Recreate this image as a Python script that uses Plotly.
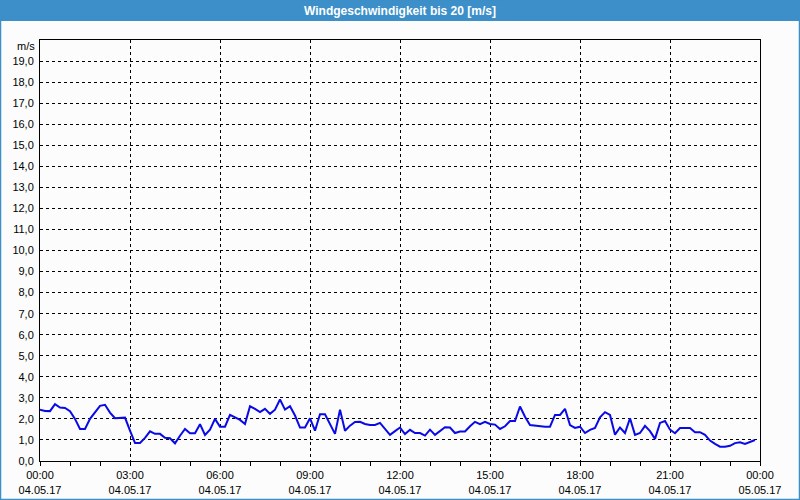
import pandas as pd
import plotly.graph_objects as go

# --- data -------------------------------------------------------------
start = "2017-05-04 00:00"
interval_minutes = 10
wind_speed = [
    2.44, 2.38, 2.37, 2.70, 2.54, 2.52, 2.37, 2.00, 1.52, 1.52,
    2.00, 2.30, 2.62, 2.67, 2.30, 2.03, 2.03, 2.06, 1.44, 0.86,
    0.86, 1.10, 1.41, 1.29, 1.29, 1.10, 1.08, 0.84, 1.20, 1.52,
    1.32, 1.32, 1.75, 1.24, 1.49, 2.00, 1.63, 1.63, 2.19, 2.08,
    1.95, 1.76, 2.60, 2.48, 2.32, 2.48, 2.24, 2.44, 2.92, 2.44,
    2.60, 2.16, 1.59, 1.59, 2.03, 1.44, 2.22, 2.22, 1.76, 1.29,
    2.44, 1.44, 1.68, 1.85, 1.86, 1.76, 1.71, 1.71, 1.81, 1.50,
    1.24, 1.42, 1.59, 1.28, 1.48, 1.33, 1.33, 1.21, 1.49, 1.24,
    1.42, 1.60, 1.59, 1.33, 1.40, 1.40, 1.65, 1.86, 1.75, 1.86,
    1.76, 1.73, 1.52, 1.65, 1.90, 1.90, 2.59, 2.10, 1.71, 1.68,
    1.63, 1.63, 1.63, 2.19, 2.19, 2.48, 1.71, 1.57, 1.63, 1.33,
    1.48, 1.57, 2.08, 2.32, 2.19, 1.25, 1.59, 1.33, 2.03, 1.24,
    1.33, 1.67, 1.42, 1.05, 1.81, 1.90, 1.49, 1.32, 1.57, 1.57,
    1.57, 1.37, 1.37, 1.24, 0.97, 0.81, 0.68, 0.68, 0.72, 0.85,
    0.89, 0.81, 0.89, 1.00,
]
times = pd.date_range(start, periods=len(wind_speed), freq=f"{interval_minutes}min")

x_tick_times = pd.date_range("2017-05-04 00:00", "2017-05-05 00:00", freq="3h")
x_tick_text = [t.strftime("%H:%M") + "<br>" + t.strftime("%d.%m.%y") for t in x_tick_times]
y_tick_vals = list(range(0, 20))
y_tick_text = [f"{v},0" for v in y_tick_vals]

title_text = "Windgeschwindigkeit bis 20 [m/s]"
unit_text = "m/s"

# --- geometry (pixels) ------------------------------------------------
W, H = 800, 500
L, R, T, B = 40, 40, 40, 39
PW, PH = W - L - R, H - T - B


def px(x):
    return (x - L) / PW


def py(y):
    return (H - B - y) / PH


BLUE = "#3c8fc8"
BG = "#fbfcfb"
FONT = "Liberation Sans, Arial, sans-serif"

fig = go.Figure()
fig.add_trace(go.Scatter(
    x=times, y=wind_speed, mode="lines",
    line=dict(color="#0a0ae6", width=2),
    hoverinfo="skip", showlegend=False,
))

fig.update_layout(
    width=W, height=H,
    margin=dict(l=L, r=R, t=T, b=B, autoexpand=False),
    paper_bgcolor=BG, plot_bgcolor=BG,
    font=dict(family=FONT, size=11, color="#000000"),
    xaxis=dict(
        range=[x_tick_times[0], x_tick_times[-1]],
        tickvals=x_tick_times, ticktext=x_tick_text,
        ticks="outside", ticklen=4, tickcolor="#000000", tickwidth=1,
        minor=dict(dtick=3600000, ticks="outside", ticklen=4,
                   tickcolor="#000000", showgrid=False),
        showgrid=True, gridcolor="#000000", griddash="3px,3px", gridwidth=1,
        showline=True, linecolor="#000000", linewidth=1, mirror=True,
        zeroline=False, fixedrange=True, automargin=False,
    ),
    yaxis=dict(
        range=[0, 20],
        tickvals=y_tick_vals, ticktext=y_tick_text,
        ticks="", ticklabelstandoff=3,
        showgrid=True, gridcolor="#000000", griddash="3px,3px", gridwidth=1,
        showline=True, linecolor="#000000", linewidth=1, mirror=True,
        zeroline=False, fixedrange=True, automargin=False,
    ),
    shapes=[
        dict(type="rect", xref="paper", yref="paper",
             x0=px(0), x1=px(W), y0=py(21), y1=py(0),
             fillcolor=BLUE, line=dict(width=0), layer="above"),
        dict(type="rect", xref="paper", yref="paper",
             x0=px(0.5), x1=px(W - 0.5), y0=py(H - 0.5), y1=py(0),
             fillcolor="rgba(0,0,0,0)", line=dict(color=BLUE, width=1.5),
             layer="above"),
    ],
    annotations=[
        dict(text="<b>" + title_text + "</b>", xref="paper", yref="paper",
             x=px(W / 2), y=py(10.5), showarrow=False,
             xanchor="center", yanchor="middle",
             font=dict(family="Liberation Sans Narrow, Liberation Sans, Arial", size=12, color="#ffffff")),
        dict(text=unit_text, xref="paper", yref="paper",
             x=px(L - 3), y=py(46), showarrow=False,
             xanchor="right", yanchor="middle",
             font=dict(family=FONT, size=11, color="#000000")),
    ],
)

fig.write_html("out.html")
